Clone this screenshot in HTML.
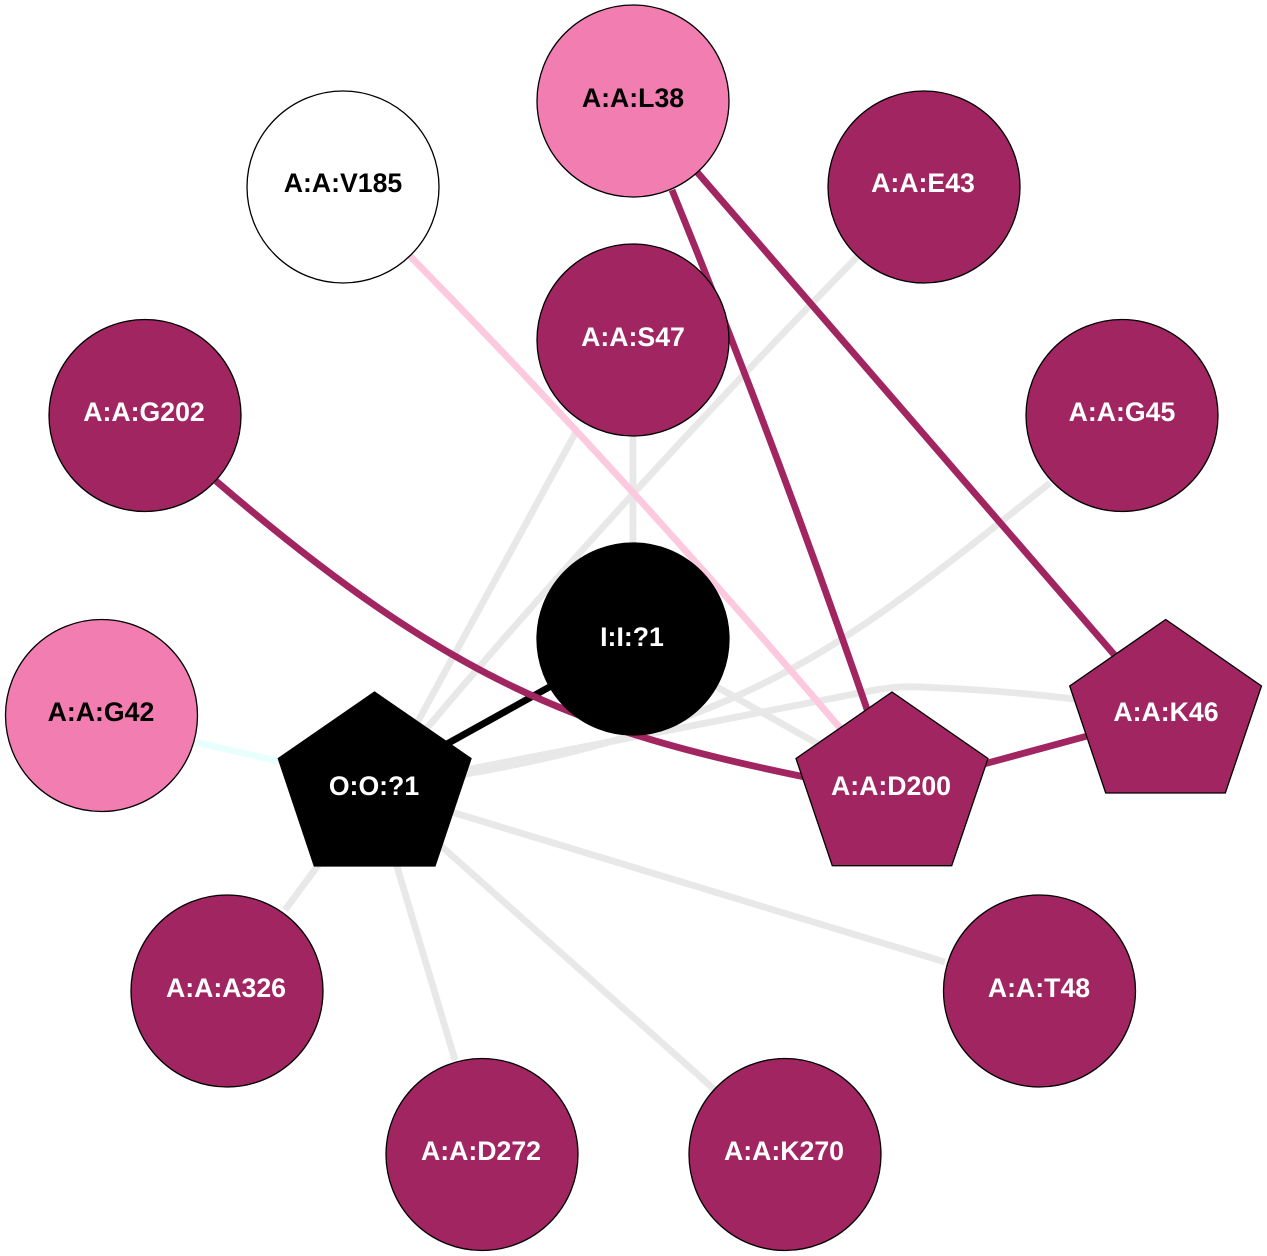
<!DOCTYPE html>
<html><head><meta charset="utf-8"><style>
html,body{margin:0;padding:0;background:#fff}
svg{display:block}
text{font-family:"Liberation Sans",Arial,sans-serif;font-weight:bold;font-size:26.67px;text-anchor:middle}
.e{fill:none;stroke-width:6.8;stroke-linejoin:round}
.g{stroke:#e8e8e8}.p{stroke:#a02560}
.n{stroke:#000;stroke-width:1.3}
.d{fill:#a02560}.k{fill:#f27db0}
.w{fill:#fff}.b{fill:#000}
</style></head><body>
<svg width="1267" height="1256" viewBox="0 0 1267 1256" xmlns="http://www.w3.org/2000/svg">
<path class="e" d="M195,742 L282,762" stroke="#e8fffe"/>
<path class="e g" d="M322,860 L285,910"/>
<path class="e g" d="M395,860 L455,1060"/>
<path class="e g" d="M440,845 L715,1090"/>
<path class="e g" d="M445,810 L945,962"/>
<path class="e g" d="M577,430 L405,745"/>
<path class="e g" d="M857,257 Q620,499 410,748"/>
<path class="e g" d="M633,436 L633,550"/>
<path class="e g" d="M1050,483 C950,562 870,628 780,675 C680,728 567,757 460,775"/>
<path class="e g" d="M460,771 L870,691 Q893,686 920,687 Q1000,690 1075,699"/>
<path class="e g" d="M717,687 L825,748"/>
<path class="e" stroke="#fcc9de" d="M410,256 Q633,484 846,735"/>
<path class="e" stroke="#000" d="M553,685 L445,745"/>
<path class="e p" d="M216,481 C450,682 580,731 805,777"/>
<path class="e p" d="M672,190 Q776,445 869,715"/>
<path class="e p" d="M697,172 L1118,659"/>
<path class="e p" d="M984,764 L1091,735"/>
<circle class="n k" cx="633" cy="101" r="96"/>
<circle class="n w" cx="343" cy="187" r="96"/>
<circle class="n d" cx="924" cy="187" r="96"/>
<circle class="n d" cx="633" cy="340" r="96"/>
<circle class="n d" cx="145" cy="415.5" r="96"/>
<circle class="n d" cx="1122" cy="415.5" r="96"/>
<circle class="n b" cx="633" cy="639" r="96"/>
<circle class="n k" cx="101.5" cy="715.5" r="96"/>
<circle class="n d" cx="227" cy="991" r="96"/>
<circle class="n d" cx="1039.5" cy="991" r="96"/>
<circle class="n d" cx="482" cy="1154.5" r="96"/>
<circle class="n d" cx="785" cy="1154.5" r="96"/>
<polygon class="n b" points="374.5,692 471,758.5 435,866 314.3,866 278.3,758.5"/>
<polygon class="n d" points="892,692 988,758.5 951.7,865.7 832.3,865.7 796,758.5"/>
<polygon class="n d" points="1165.7,619.5 1261.5,686 1225.3,793 1105.7,793 1069.7,686"/>
<text x="633" y="107" fill="#000">A:A:L38</text>
<text x="343" y="192" fill="#000">A:A:V185</text>
<text x="923" y="192" fill="#fff">A:A:E43</text>
<text x="633" y="346" fill="#fff">A:A:S47</text>
<text x="144" y="421" fill="#fff">A:A:G202</text>
<text x="1122" y="421" fill="#fff">A:A:G45</text>
<text x="632" y="646" fill="#fff">I:I:?1</text>
<text x="101" y="721" fill="#000">A:A:G42</text>
<text x="374" y="795" fill="#fff">O:O:?1</text>
<text x="891" y="795" fill="#fff">A:A:D200</text>
<text x="1166" y="721" fill="#fff">A:A:K46</text>
<text x="226" y="997" fill="#fff">A:A:A326</text>
<text x="1039" y="997" fill="#fff">A:A:T48</text>
<text x="481" y="1160" fill="#fff">A:A:D272</text>
<text x="784" y="1160" fill="#fff">A:A:K270</text>
</svg>
</body></html>
